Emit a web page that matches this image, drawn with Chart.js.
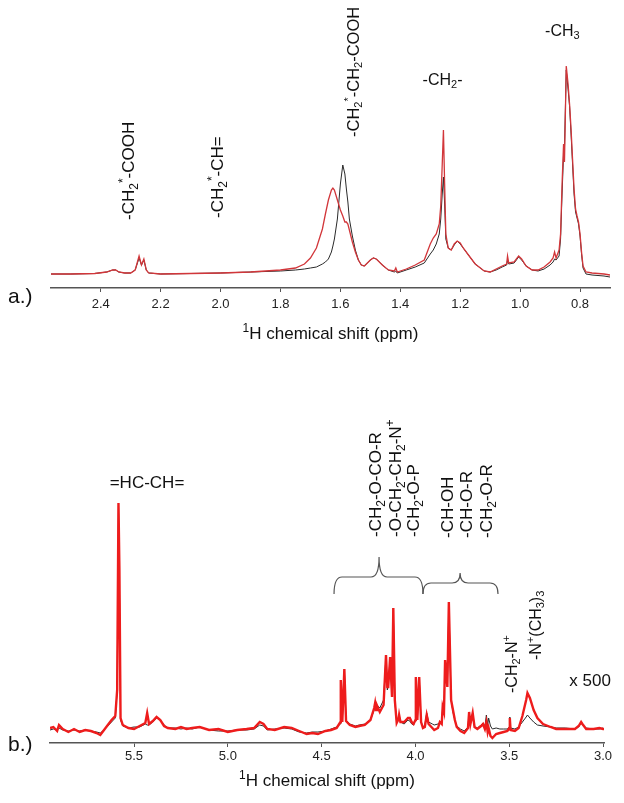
<!DOCTYPE html>
<html>
<head>
<meta charset="utf-8">
<script src="https://cdn.jsdelivr.net/npm/chart.js@4.4.1/dist/chart.umd.min.js"></script>
<style>
  body { margin: 0; background: #fff; width: 624px; height: 803px; position: relative; overflow: hidden; }
  canvas { position: absolute; left: 0; }
  #cA { top: 0; }
  #cB { top: 350px; }
  .tag { position: absolute; left: 8px; font: 21px "Liberation Sans", Arial, sans-serif; color: #111; }
</style>
</head>
<body>
<canvas id="cA" width="624" height="350"></canvas>
<canvas id="cB" width="624" height="453"></canvas>
<div class="tag" style="top:284px">a.)</div>
<div class="tag" style="top:732px">b.)</div>
<script>
// panel a: aliphatic region (ppm, intensity a.u.)
const ppmA = [2.566, 2.50, 2.42, 2.38, 2.36, 2.35, 2.34, 2.32, 2.30, 2.285, 2.272, 2.264, 2.256, 2.248, 2.24, 2.20,
  2.10, 2.00, 1.90, 1.80, 1.75, 1.72, 1.70, 1.68, 1.66, 1.65, 1.64, 1.63, 1.625, 1.62, 1.61, 1.60, 1.592, 1.585,
  1.58, 1.575, 1.57, 1.56, 1.55, 1.54, 1.53, 1.52, 1.50, 1.49, 1.48, 1.46, 1.44, 1.42, 1.415, 1.41, 1.38, 1.35,
  1.32, 1.30, 1.29, 1.28, 1.27, 1.265, 1.26, 1.256, 1.252, 1.248, 1.24, 1.23, 1.22, 1.21, 1.20, 1.19, 1.17, 1.15,
  1.12, 1.10, 1.08, 1.06, 1.045, 1.042, 1.038, 1.02, 1.005, 0.995, 0.98, 0.96, 0.94, 0.92, 0.90, 0.89, 0.885, 0.88,
  0.87, 0.865, 0.86, 0.855, 0.852, 0.846, 0.84, 0.835, 0.83, 0.825, 0.82, 0.815, 0.81, 0.805, 0.80, 0.795, 0.79,
  0.78, 0.76, 0.72, 0.70];
const redA = [0, 0, 0.5, 2, 4, 4, 2, 1, 1, 4, 18, 9, 15, 4, 1, 0,
  0.5, 1, 2, 4, 6, 10, 16, 26, 45, 60, 74, 84, 86, 84, 74, 64, 58, 52,
  52, 50, 44, 32, 22, 14, 9, 8, 14, 16, 15, 9, 4, 3, 6, 2, 5, 9,
  14, 30, 36, 40, 50, 68, 110, 144, 90, 40, 26, 24, 30, 33, 31, 26, 18, 10,
  3, 2, 5, 8, 10, 18, 11, 12, 18, 15, 8, 4, 4, 7, 12, 16, 22, 16,
  24, 40, 90, 130, 112, 208, 190, 170, 145, 115, 85, 65, 58, 52, 40, 22, 8,
  2, 1, 0, -1];
const blackA = [0, 0, 0.5, 2, 4, 4, 2, 1, 1, 4, 16, 9, 14, 4, 1, 0,
  0.5, 1, 2, 3, 4, 5, 6, 7, 10, 12, 15, 22, 28, 35, 55, 90, 109, 100,
  85, 72, 55, 38, 24, 14, 9, 8, 14, 16, 15, 9, 4, 2, 3, 1, 4, 7,
  11, 20, 24, 30, 40, 55, 80, 97, 70, 35, 26, 24, 29, 33, 30, 26, 18, 10,
  3, 2, 4, 7, 9, 14, 10, 11, 17, 14, 8, 4, 3, 5, 9, 12, 15, 14,
  18, 35, 80, 120, 125, 204, 185, 168, 140, 110, 80, 62, 56, 50, 38, 20, 6,
  0, -1, -2, -3];

// panel b: glycerol / headgroup region, x 500
const ppmB = [5.948, 5.93, 5.91, 5.90, 5.88, 5.85, 5.82, 5.79, 5.76, 5.73, 5.70, 5.68, 5.66, 5.64, 5.62, 5.60,
  5.59, 5.583, 5.578, 5.572, 5.56, 5.53, 5.50, 5.47, 5.44, 5.43, 5.42, 5.40, 5.38, 5.36, 5.34, 5.32, 5.28, 5.25,
  5.22, 5.19, 5.15, 5.10, 5.05, 5.00, 4.95, 4.90, 4.86, 4.83, 4.81, 4.79, 4.75, 4.70, 4.66, 4.62, 4.58, 4.55,
  4.52, 4.48, 4.45, 4.42, 4.40, 4.398, 4.39, 4.379, 4.37, 4.35, 4.32, 4.30, 4.27, 4.24, 4.22, 4.215, 4.21, 4.206,
  4.19, 4.17, 4.157, 4.15, 4.145, 4.135, 4.125, 4.118, 4.11, 4.10, 4.09, 4.087, 4.08, 4.06, 4.04, 4.03, 4.02,
  4.01, 4.00, 3.998, 3.99, 3.98, 3.97, 3.96, 3.95, 3.94, 3.93, 3.91, 3.90, 3.88, 3.87, 3.86, 3.855, 3.848, 3.842,
  3.83, 3.822, 3.81, 3.80, 3.79, 3.78, 3.76, 3.74, 3.72, 3.714, 3.707, 3.695, 3.685, 3.67, 3.65, 3.64, 3.63,
  3.622, 3.615, 3.61, 3.60, 3.59, 3.57, 3.55, 3.53, 3.51, 3.50, 3.497, 3.493, 3.47, 3.45, 3.43, 3.41, 3.403,
  3.39, 3.37, 3.35, 3.32, 3.28, 3.25, 3.20, 3.15, 3.13, 3.117, 3.11, 3.09, 3.05, 3.02, 3.00, 2.995];
const redB = [2, 3, -1, 5, 1, -2, 1, -2, 0, -1, -3, -5, 0, 5, 10, 14,
  40, 227, 160, 12, 5, 2, 1, 4, 7, 17, 6, 9, 13, 10, 4, 2, 1, 3,
  1, 2, 3, 0, 1, -2, 0, 1, 2, 8, 6, 1, 0, 3, 2, -1, -4, -3,
  -4, -1, 0, 2, 8, 50, 8, 61, 9, 5, 3, 4, 5, 10, 22, 27, 20, 25,
  18, 25, 75, 43, 43, 73, 33, 122, 30, 7, 11, 15, 8, 8, 12, 12, 8,
  6, 10, 53, 10, 53, 8, 2, 3, 15, 6, 2, 0, 2, 8, 6, 23, 18, 70,
  43, 128, 30, 20, 10, 3, -1, -3, 2, 18, 6, 17, 3, 1, 4, 6, 1,
  8, -2, 2, -6, -8, -4, -3, -2, -1, 2, 12, 0, -1, 2, 14, 30, 37,
  32, 20, 12, 6, 3, 1, 1, 1, 4, 8, 6, 1, 1, 2, 1, 1];
const blackB = [0, 1, 0, 2, 0, -1, 0, -1, 0, -1, -2, -3, 0, 4, 8, 12,
  40, 227, 150, 10, 4, 2, 3, 3, 6, 5, 5, 8, 12, 10, 5, 2, 2, 1,
  2, 1, 3, 0, -1, -1, 0, 0, 1, 5, 4, 0, 1, 2, 1, -2, -3, -2,
  -2, -1, 1, 3, 6, 50, 8, 61, 10, 6, 4, 5, 6, 10, 20, 27, 20, 25,
  22, 30, 75, 40, 45, 73, 33, 122, 30, 7, 10, 15, 8, 6, 10, 9, 6,
  5, 10, 53, 10, 53, 8, 3, 5, 17, 8, 6, 5, 6, 8, 8, 23, 20, 70,
  43, 128, 30, 18, 10, 4, 1, -1, 3, 18, 6, 17, 3, 2, 5, 7, 3,
  15, 5, 12, 4, 1, 2, 1, 1, 1, 3, 13, 2, 1, 3, 8, 13, 15,
  12, 8, 5, 4, 3, 2, 2, 1, 3, 7, 5, 2, 1, 1, 2, 1];

// assignment labels
const labelsA = ["-CH_2^*-COOH", "-CH_2^*-CH=", "-CH_2^*-CH_2-COOH", "-CH_2-", "-CH_3"];
const labelsB = ["=HC-CH=", "-CH_2-O-CO-R", "-O-CH_2-CH_2-N^+", "-CH_2-O-P", "-CH-OH", "-CH-O-R", "-CH_2-O-R",
  "-CH_2-N^+", "-N^+(CH_3)_3", "x 500"];
const axisTitle = "^1H chemical shift (ppm)";

const FONT = '"Liberation Sans", Arial, sans-serif';

function pts(xs, ys) {
  return xs.map((x, i) => ({ x: x, y: ys[i] }));
}

function parseRich(s) {
  const segs = [];
  let i = 0;
  while (i < s.length) {
    const c = s[i];
    if ((c === '_' || c === '^') && i + 1 < s.length) {
      segs.push({ t: s[i + 1], k: c === '_' ? 'sub' : 'sup' });
      i += 2;
    } else {
      let j = i;
      while (j < s.length && s[j] !== '_' && s[j] !== '^') j++;
      segs.push({ t: s.slice(i, j), k: 'n' });
      i = j;
    }
  }
  return segs;
}

function drawRich(ctx, s, x, y, size, rot, align) {
  const segs = parseRich(s);
  const big = size + 'px ' + FONT;
  const small = Math.round(size * 0.68) + 'px ' + FONT;
  let w = 0;
  segs.forEach(g => { ctx.font = g.k === 'n' ? big : small; g.w = ctx.measureText(g.t).width; w += g.w; });
  ctx.save();
  ctx.translate(x, y);
  if (rot) ctx.rotate(-Math.PI / 2);
  ctx.fillStyle = '#111';
  ctx.textBaseline = 'alphabetic';
  let cx = align === 'center' ? -w / 2 : 0;
  const yb = size * 0.36;
  segs.forEach(g => {
    ctx.font = g.k === 'n' ? big : small;
    let dy = yb;
    if (g.k === 'sub') dy = yb + size * 0.22;
    if (g.k === 'sup') dy = yb - size * 0.42;
    ctx.fillText(g.t, cx, dy);
    cx += g.w;
  });
  ctx.restore();
}

function brace(ctx, xs, ys, b) {
  const x1 = xs.getPixelForValue(b.from), x2 = xs.getPixelForValue(b.to), xt = xs.getPixelForValue(b.tip);
  const ye = ys.getPixelForValue(b.end), ya = ys.getPixelForValue(b.arm), yt = ys.getPixelForValue(b.top);
  const r = 8;
  ctx.save();
  ctx.strokeStyle = '#555';
  ctx.lineWidth = 1.2;
  ctx.beginPath();
  ctx.moveTo(x1, ye);
  ctx.quadraticCurveTo(x1, ya, x1 + r, ya);
  ctx.lineTo(xt - r, ya);
  ctx.quadraticCurveTo(xt, ya, xt, yt);
  ctx.quadraticCurveTo(xt, ya, xt + r, ya);
  ctx.lineTo(x2 - r, ya);
  ctx.quadraticCurveTo(x2, ya, x2, ye);
  ctx.stroke();
  ctx.restore();
}

const annot = {
  id: 'annot',
  afterDatasetsDraw(chart, args, opts) {
    const ctx = chart.ctx, xs = chart.scales.x, ys = chart.scales.y;
    opts.items.forEach(it => {
      drawRich(ctx, it.text, xs.getPixelForValue(it.x), ys.getPixelForValue(it.y), it.size, it.rot, it.rot ? 'start' : 'center');
    });
    (opts.braces || []).forEach(b => brace(ctx, xs, ys, b));
    const ca = chart.chartArea;
    drawRich(ctx, axisTitle, (ca.left + ca.right) / 2, ca.bottom + opts.titleOffset, 17, false, 'center');
  }
};

function makeChart(id, ppm, red, black, cfg) {
  return new Chart(document.getElementById(id), {
    type: 'line',
    data: {
      datasets: [
        { label: 'red', data: pts(ppm, red), borderColor: cfg.red, borderWidth: cfg.redWidth, pointRadius: 0, tension: 0 },
        { label: 'black', data: pts(ppm, black), borderColor: '#2a2a2a', borderWidth: 1, pointRadius: 0, tension: 0 }
      ]
    },
    options: {
      responsive: false,
      animation: false,
      devicePixelRatio: 1,
      layout: { padding: cfg.padding },
      plugins: { legend: { display: false }, tooltip: { enabled: false }, annot: cfg.annot },
      scales: {
        x: {
          type: 'linear',
          reverse: true,
          min: cfg.min, max: cfg.max,
          afterFit: s => { s.height = cfg.axisHeight; },
          border: { display: true, color: '#555', width: 1.5 },
          grid: { display: true, drawOnChartArea: false, drawTicks: true, tickLength: 4, color: '#555' },
          ticks: {
            stepSize: cfg.step, includeBounds: false, padding: cfg.tickPad, color: '#222', maxRotation: 0,
            font: { family: FONT, size: 13 },
            callback: v => v.toFixed(1)
          }
        },
        y: { display: false, min: cfg.ymin, max: cfg.ymax }
      }
    },
    plugins: [annot]
  });
}

makeChart('cA', ppmA, redA, blackA, {
  red: '#d2363a', redWidth: 1.3, min: 0.70, max: 2.566, step: 0.2, ymin: -14, ymax: 264,
  padding: { left: 51, right: 14, top: 10, bottom: 5 }, axisHeight: 57, tickPad: 5,
  annot: {
    titleOffset: 45,
    items: [
      { text: labelsA[0], x: 2.309, y: 54, size: 17, rot: true },
      { text: labelsA[1], x: 2.012, y: 56, size: 17, rot: true },
      { text: labelsA[2], x: 1.559, y: 137, size: 16.5, rot: true },
      { text: labelsA[3], x: 1.259, y: 195, size: 16, rot: false },
      { text: labelsA[4], x: 0.859, y: 244, size: 16, rot: false }
    ]
  }
});

makeChart('cB', ppmB, redB, blackB, {
  red: '#ee1c1c', redWidth: 2.4, min: 2.995, max: 5.948, step: 0.5, ymin: -13, ymax: 360,
  padding: { left: 50, right: 20, top: 20, bottom: 5 }, axisHeight: 55, tickPad: 2,
  annot: {
    titleOffset: 37,
    items: [
      { text: labelsB[0], x: 5.431, y: 248, size: 17, rot: false },
      { text: labelsB[1], x: 4.215, y: 193, size: 17, rot: true },
      { text: labelsB[2], x: 4.109, y: 193, size: 17, rot: true },
      { text: labelsB[3], x: 4.013, y: 193, size: 17, rot: true },
      { text: labelsB[4], x: 3.832, y: 192, size: 17, rot: true },
      { text: labelsB[5], x: 3.730, y: 192, size: 17, rot: true },
      { text: labelsB[6], x: 3.624, y: 192, size: 17, rot: true },
      { text: labelsB[7], x: 3.490, y: 37, size: 16, rot: true },
      { text: labelsB[8], x: 3.362, y: 70, size: 16, rot: true },
      { text: labelsB[9], x: 3.069, y: 50, size: 17, rot: false }
    ],
    braces: [
      { from: 4.434, to: 3.96, tip: 4.194, end: 136, arm: 153, top: 173 },
      { from: 3.96, to: 3.56, tip: 3.762, end: 136, arm: 147, top: 157 }
    ]
  }
});
</script>
</body>
</html>
